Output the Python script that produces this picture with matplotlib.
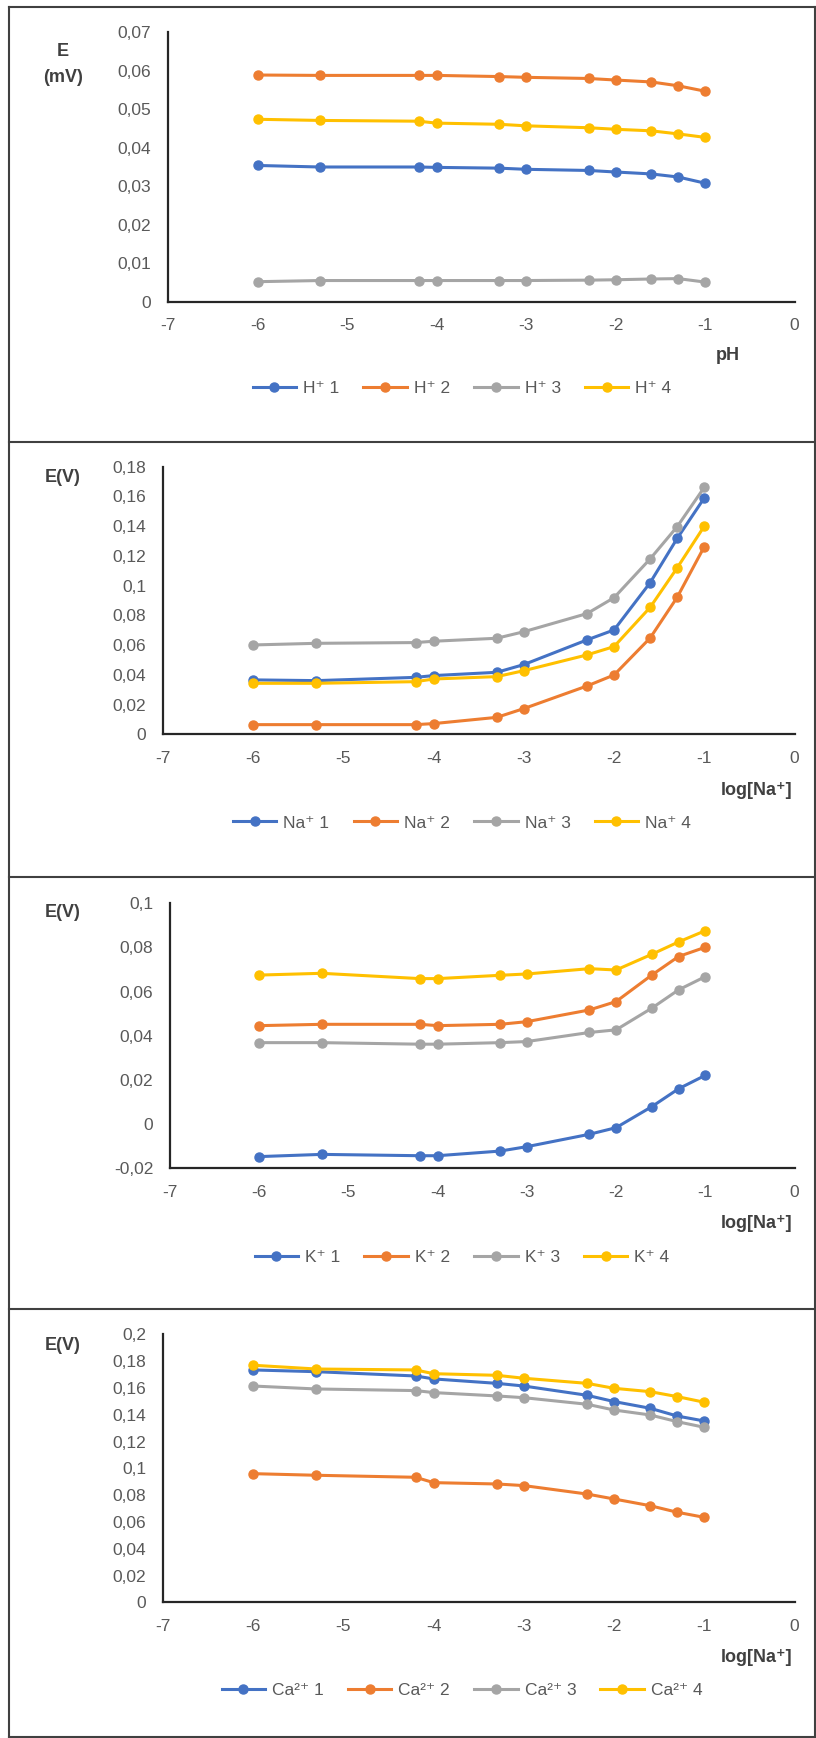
import matplotlib
matplotlib.use('Agg')
import matplotlib.pyplot as plt
from matplotlib.ticker import MultipleLocator, FuncFormatter
from matplotlib.lines import Line2D

# data
x_vals = [-6, -5.3, -4.2, -4, -3.3, -3, -2.3, -2, -1.6, -1.3, -1]

h1 = [0.0354, 0.0350, 0.0350, 0.0349, 0.0347, 0.0344, 0.0341, 0.0337, 0.0332, 0.0324, 0.0308]
h2 = [0.0589, 0.0588, 0.0588, 0.0588, 0.0585, 0.0583, 0.0580, 0.0576, 0.0571, 0.0561, 0.0547]
h3 = [0.0052, 0.0055, 0.0055, 0.0055, 0.0055, 0.0055, 0.0056, 0.0057, 0.0059, 0.0060, 0.0051]
h4 = [0.0474, 0.0471, 0.0469, 0.0464, 0.0461, 0.0457, 0.0452, 0.0448, 0.0444, 0.0436, 0.0427]

na1 = [0.0366, 0.0361, 0.0383, 0.0395, 0.0417, 0.0469, 0.0635, 0.0702, 0.1020, 0.1318, 0.1590]
na2 = [0.0065, 0.0065, 0.0065, 0.0072, 0.0114, 0.0173, 0.0325, 0.0399, 0.0648, 0.0922, 0.1262]
na3 = [0.0601, 0.0612, 0.0617, 0.0626, 0.0646, 0.0690, 0.0812, 0.0919, 0.1180, 0.1397, 0.1661]
na4 = [0.0343, 0.0343, 0.0354, 0.0372, 0.0388, 0.0428, 0.0534, 0.0590, 0.0854, 0.1120, 0.1400]

k1 = [-0.0147, -0.0137, -0.0143, -0.0143, -0.0122, -0.0102, -0.0046, -0.0016, 0.0079, 0.0160, 0.0221]
k2 = [0.0446, 0.0452, 0.0452, 0.0446, 0.0452, 0.0464, 0.0517, 0.0555, 0.0675, 0.0759, 0.0801]
k3 = [0.0369, 0.0369, 0.0362, 0.0362, 0.0369, 0.0374, 0.0415, 0.0427, 0.0525, 0.0608, 0.0668]
k4 = [0.0675, 0.0683, 0.0659, 0.0659, 0.0674, 0.0680, 0.0704, 0.0698, 0.0769, 0.0825, 0.0876]

ca1 = [0.1734, 0.1721, 0.1689, 0.1667, 0.1634, 0.1614, 0.1545, 0.1498, 0.1448, 0.1390, 0.1353]
ca2 = [0.0960, 0.0948, 0.0933, 0.0893, 0.0883, 0.0871, 0.0808, 0.0771, 0.0721, 0.0672, 0.0634]
ca3 = [0.1614, 0.1592, 0.1580, 0.1565, 0.1540, 0.1527, 0.1478, 0.1435, 0.1398, 0.1348, 0.1306]
ca4 = [0.1769, 0.1741, 0.1734, 0.1706, 0.1694, 0.1672, 0.1634, 0.1597, 0.1572, 0.1535, 0.1493]

colors = ['#4472C4', '#ED7D31', '#A5A5A5', '#FFC000']

W, H = 816, 1738
plt.rcParams['font.family'] = ['Liberation Sans', 'DejaVu Sans']

fig = plt.figure(figsize=(W / 100, H / 100), dpi=100)


def fx(px):
    return px / W


def fy(py):
    return 1 - py / H


def comma(v, pos):
    s = '%g' % round(v, 6)
    if s == '-0':
        s = '0'
    return s.replace('.', ',')


# panel borders
border = dict(color='#404040', lw=1.5, transform=fig.transFigure)
for yy in [7, 442, 877, 1309, 1737]:
    fig.add_artist(Line2D([fx(9), fx(815)], [fy(yy), fy(yy)], **border))
for xx in [9, 815]:
    fig.add_artist(Line2D([fx(xx), fx(xx)], [fy(7), fy(1737)], **border))

panels = [
    # series, labels, axes box in px (left, right, top, bottom), ylim, step,
    # ylabel lines [(text, y)], xlabel, xlabel y, legend y
    ([h1, h2, h3, h4], ['H⁺ 1', 'H⁺ 2', 'H⁺ 3', 'H⁺ 4'], (168, 794.5, 32.3, 301.7),
     (0, 0.07), 0.01, [('E', 51), ('(mV)', 78)], 'pH', 355, 388),
    ([na1, na2, na3, na4], ['Na⁺ 1', 'Na⁺ 2', 'Na⁺ 3', 'Na⁺ 4'], (163, 794.5, 466.7, 734.3),
     (0, 0.18), 0.02, [('E(V)', 477)], 'log[Na⁺]', 790, 823),
    ([k1, k2, k3, k4], ['K⁺ 1', 'K⁺ 2', 'K⁺ 3', 'K⁺ 4'], (170, 794.5, 903.3, 1168.3),
     (-0.02, 0.1), 0.02, [('E(V)', 912)], 'log[Na⁺]', 1223, 1257),
    ([ca1, ca2, ca3, ca4], ['Ca²⁺ 1', 'Ca²⁺ 2', 'Ca²⁺ 3', 'Ca²⁺ 4'], (163, 794.5, 1334.3, 1602.3),
     (0, 0.2), 0.02, [('E(V)', 1346)], 'log[Na⁺]', 1657, 1690),
]

for series, labels, box, ylim, step, ylab, xlab, xlab_y, leg_y in panels:
    x0, x1, y0, y1 = box
    ax = fig.add_axes([fx(x0), fy(y1), fx(x1 - x0), (y1 - y0) / H])
    for vals, lab, c in zip(series, labels, colors):
        ax.plot(x_vals, vals, color=c, lw=2.2, marker='o', markersize=6.5, label=lab)
    ax.set_xlim(-7, 0)
    ax.set_ylim(*ylim)
    ax.xaxis.set_major_locator(MultipleLocator(1))
    ax.yaxis.set_major_locator(MultipleLocator(step))
    ax.xaxis.set_major_formatter(FuncFormatter(comma))
    ax.yaxis.set_major_formatter(FuncFormatter(comma))
    for side in ['top', 'right']:
        ax.spines[side].set_visible(False)
    for side in ['left', 'bottom']:
        ax.spines[side].set_color('#262626')
        ax.spines[side].set_linewidth(1.6)
    ax.tick_params(axis='both', length=0, labelsize=12.5, labelcolor='#595959')
    ax.tick_params(axis='y', pad=12)
    ax.tick_params(axis='x', pad=12)
    ax.patch.set_alpha(0)

    for txt, yy in ylab:
        fig.text(fx(63), fy(yy), txt, ha='center', va='center', fontsize=13,
                 fontweight='bold', color='#404040')
    xl_x = 728 if xlab == 'pH' else 757
    fig.text(fx(xl_x), fy(xlab_y), xlab, ha='center', va='center',
             fontsize=13, fontweight='bold', color='#404040')

    handles, labs = ax.get_legend_handles_labels()
    fig.legend(handles, labs, loc='center', bbox_to_anchor=(fx(462), fy(leg_y)),
               ncol=4, frameon=False, fontsize=12.5, labelcolor='#595959',
               handlelength=2.5, handletextpad=0.4, columnspacing=1.4)

fig.savefig('out.png', dpi=100, facecolor='white')
